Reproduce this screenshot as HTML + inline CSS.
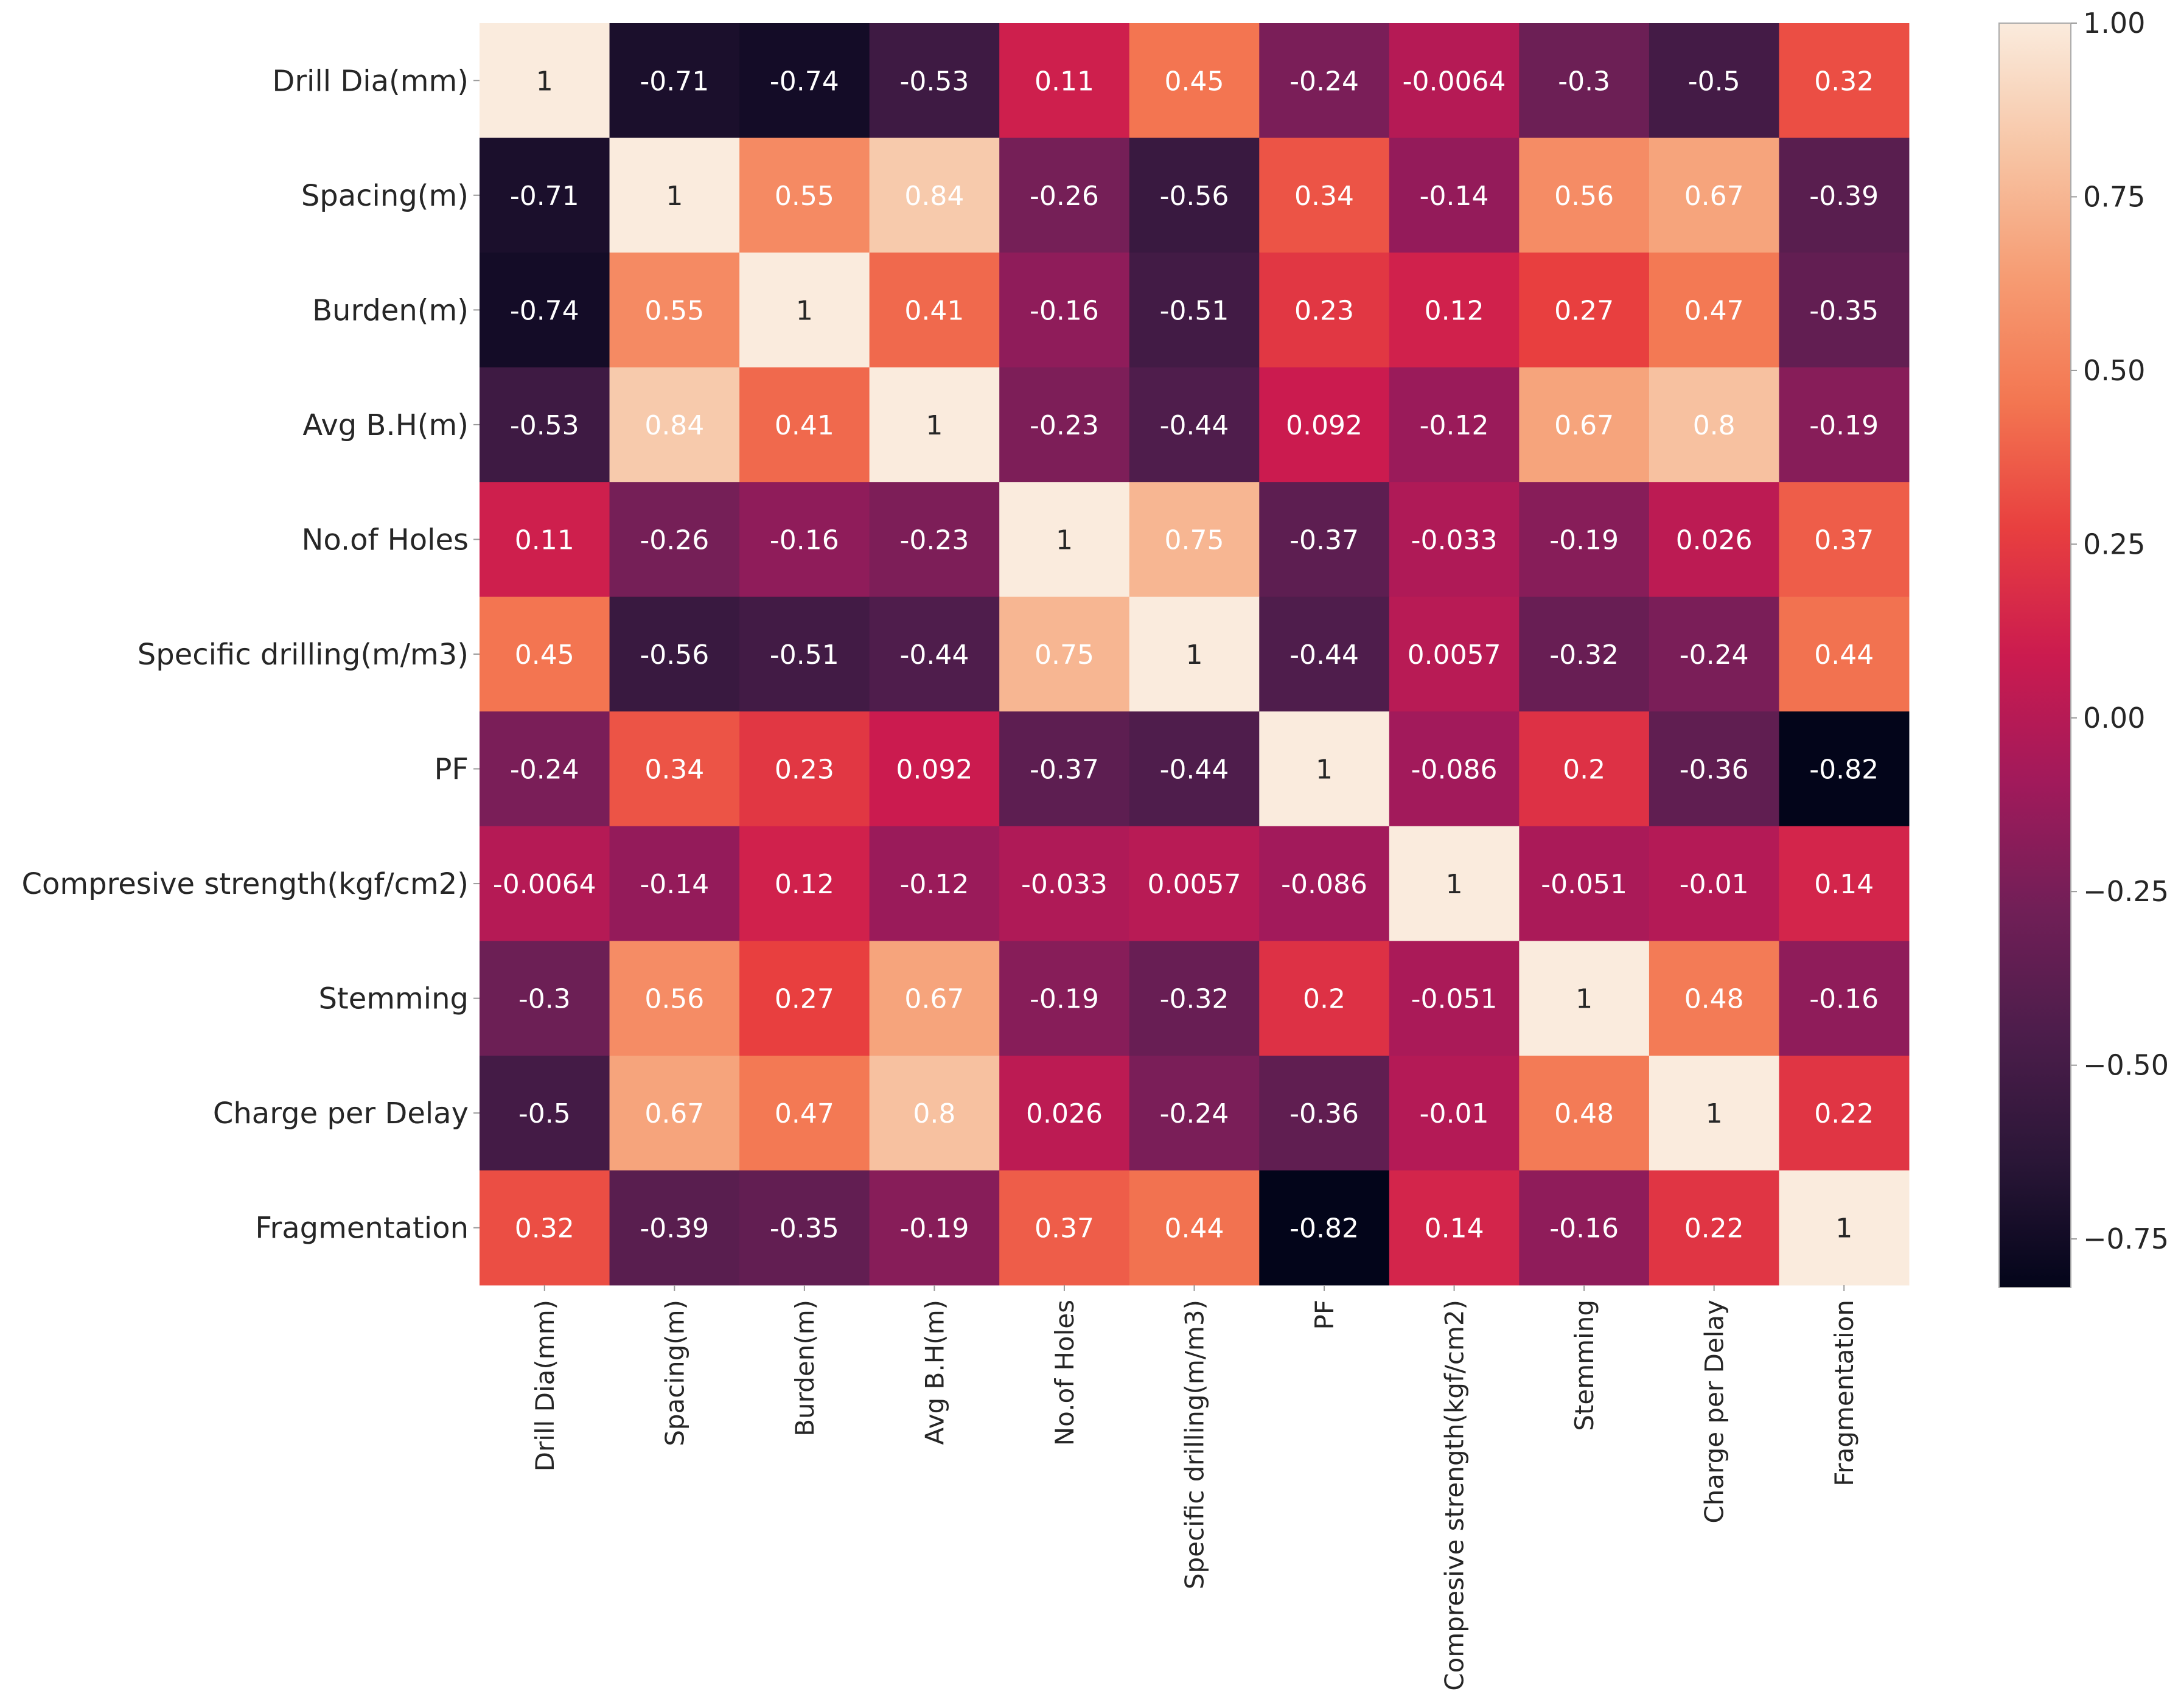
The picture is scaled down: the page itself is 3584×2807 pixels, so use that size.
<!DOCTYPE html>
<html><head><meta charset="utf-8"><style>
html,body{margin:0;padding:0;background:#fff;}
svg{display:block;font-family:"DejaVu Sans","Liberation Sans",sans-serif;}
</style></head><body>
<svg id="chart" width="3584" height="2807" viewBox="0 0 3584 2807" xmlns="http://www.w3.org/2000/svg">
<defs>
<linearGradient id="rocket" x1="0" y1="1" x2="0" y2="0">
<stop offset="0" stop-color="#03051A"/><stop offset="0.1" stop-color="#2A1637"/><stop offset="0.2" stop-color="#4C1D4B"/><stop offset="0.3" stop-color="#711F57"/><stop offset="0.4" stop-color="#A11A5B"/><stop offset="0.5" stop-color="#CB1B4F"/><stop offset="0.6" stop-color="#E83F3F"/><stop offset="0.7" stop-color="#F37651"/><stop offset="0.8" stop-color="#F69C73"/><stop offset="0.9" stop-color="#F7C5A5"/><stop offset="1" stop-color="#FAEBDD"/>
</linearGradient>
</defs>
<g id="cells"></g><g id="ylabels"></g><g id="xlabels"></g><g id="cbar"></g>
</svg>
<script>
const labels = ["Drill Dia(mm)","Spacing(m)","Burden(m)","Avg B.H(m)","No.of Holes","Specific drilling(m/m3)","PF","Compresive strength(kgf/cm2)","Stemming","Charge per Delay","Fragmentation"];
const row0 = [1,-0.71,-0.74,-0.53,0.11,0.45,-0.24,-0.0064,-0.3,-0.5,0.32];
const row1 = [-0.71,1,0.55,0.84,-0.26,-0.56,0.34,-0.14,0.56,0.67,-0.39];
const row2 = [-0.74,0.55,1,0.41,-0.16,-0.51,0.23,0.12,0.27,0.47,-0.35];
const row3 = [-0.53,0.84,0.41,1,-0.23,-0.44,0.092,-0.12,0.67,0.8,-0.19];
const row4 = [0.11,-0.26,-0.16,-0.23,1,0.75,-0.37,-0.033,-0.19,0.026,0.37];
const row5 = [0.45,-0.56,-0.51,-0.44,0.75,1,-0.44,0.0057,-0.32,-0.24,0.44];
const row6 = [-0.24,0.34,0.23,0.092,-0.37,-0.44,1,-0.086,0.2,-0.36,-0.82];
const row7 = [-0.0064,-0.14,0.12,-0.12,-0.033,0.0057,-0.086,1,-0.051,-0.01,0.14];
const row8 = [-0.3,0.56,0.27,0.67,-0.19,-0.32,0.2,-0.051,1,0.48,-0.16];
const row9 = [-0.5,0.67,0.47,0.8,0.026,-0.24,-0.36,-0.01,0.48,1,0.22];
const row10 = [0.32,-0.39,-0.35,-0.19,0.37,0.44,-0.82,0.14,-0.16,0.22,1];
const matrix = [row0,row1,row2,row3,row4,row5,row6,row7,row8,row9,row10];
const cbarTicks = [1.00,0.75,0.50,0.25,0.00,-0.25,-0.50,-0.75];
const vmin = -0.82, vmax = 1;

const NS="http://www.w3.org/2000/svg";
const L=788,T=38,R=3137,B=2112;
const n=labels.length, cw=(R-L)/n, ch=(B-T)/n;
const xPos=i=>L+i*cw, yPos=j=>T+j*ch;
const stops=[[0,[3,5,26]],[0.1,[42,22,55]],[0.2,[76,29,75]],[0.3,[113,31,87]],[0.4,[161,26,91]],[0.5,[203,27,79]],[0.6,[232,63,63]],[0.7,[243,118,81]],[0.8,[246,156,115]],[0.9,[247,197,165]],[1,[250,235,221]]];
function color(v){let t=(v-vmin)/(vmax-vmin);t=Math.max(0,Math.min(1,t));
 for(let k=1;k<stops.length;k++){if(t<=stops[k][0]){const a=stops[k-1],b=stops[k];const f=(t-a[0])/(b[0]-a[0]);
 const c=a[1].map((x,i)=>Math.round(x+(b[1][i]-x)*f));return `rgb(${c})`;}}return "rgb(250,235,221)";}
function el(tag,attrs,parent){const e=document.createElementNS(NS,tag);for(const k in attrs)e.setAttribute(k,attrs[k]);parent.appendChild(e);return e;}
const cells=document.getElementById('cells'),yl=document.getElementById('ylabels'),xl=document.getElementById('xlabels'),cb=document.getElementById('cbar');

matrix.forEach((row,j)=>row.forEach((v,i)=>{
 const r=el('rect',{x:xPos(i),y:yPos(j),width:cw+0.5,height:ch+0.5,fill:color(v)},cells);
 
 
 const cx=xPos(i)+cw/2, cy=yPos(j)+ch/2;
 const t=el('text',{x:cx,y:cy+16,'text-anchor':'middle','font-size':44,fill:v>0.9?'#262626':'#ffffff'},cells);
 t.textContent=String(v);
 
 
}));

labels.forEach((lab,j)=>{
 const cy=yPos(j)+ch/2;
 el('line',{x1:L-10,x2:L,y1:cy,y2:cy,stroke:'#999','stroke-width':2},yl);
 const t=el('text',{x:L-18,y:cy+17,'text-anchor':'end','font-size':48,fill:'#262626'},yl);
 t.textContent=lab;
 
 
});
labels.forEach((lab,i)=>{
 const cx=xPos(i)+cw/2;
 el('line',{x1:cx,x2:cx,y1:B,y2:B+10,stroke:'#999','stroke-width':2},xl);
 const g=el('g',{transform:`translate(${cx},${B+24}) rotate(-90)`},xl);
 const t=el('text',{x:0,y:15,'text-anchor':'end','font-size':42,fill:'#262626'},g);
 t.textContent=lab;
 
 
});

const CX=3285,CW=118,cbY=v=>T+(vmax-v)/(vmax-vmin)*(B+4-T);
const bar=el('rect',{x:CX,y:T,width:CW,height:B+4-T,fill:'url(#rocket)',stroke:'#aaa','stroke-width':2},cb);


cbarTicks.forEach(v=>{
 const y=cbY(v);
 el('line',{x1:CX+CW,x2:CX+CW+10,y1:y,y2:y,stroke:'#999','stroke-width':2},cb);
 const t=el('text',{x:CX+CW+20,y:y+16,'font-size':46,fill:'#262626'},cb);
 t.textContent=(v<0?'\u2212':'')+Math.abs(v).toFixed(2);
 
 
});
</script>
</body></html>
